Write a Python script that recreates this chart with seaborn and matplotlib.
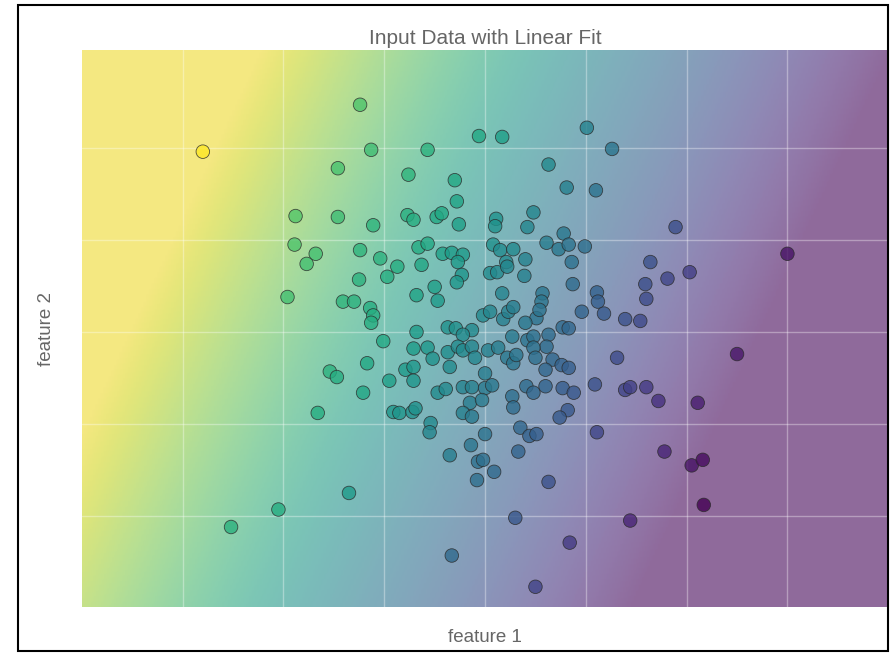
import numpy as np
import pandas as pd
import matplotlib
matplotlib.use("Agg")
import matplotlib.pyplot as plt
from matplotlib.patches import Rectangle
import seaborn as sns

# ---- data ----
feature_1 = [-2.80, -1.24, -1.13, -0.57, -0.06, 0.17, 1.01, 1.26, -1.46, -0.76,
             -0.30, 0.63, 0.81, 1.10, -0.28, -1.88, -1.46, -1.11, -0.77, -0.71,
             -0.48, -0.43, -0.26, 0.48, 0.11, 0.10, 0.42, 0.78, 1.89, -1.89,
             -1.68, -1.77, -1.24, -0.66, -0.57, -0.42, -0.33, -0.22, -0.27, 0.61,
             0.73, 0.83, 0.99, 0.08, 0.15, 0.28, 0.21, 0.40, 0.86, 1.64,
             2.03, 3.00, -1.04, -0.87, -0.97, -0.63, -0.23, -0.28, -1.25, -0.68,
             -0.50, -0.47, -1.96, -1.41, -1.30, -1.14, -1.11, -1.13, -0.68, -0.37,
             -0.29, -0.13, -0.22, -1.01, -0.71, -0.57, -0.52, -0.37, -0.27, -0.22,
             -0.13, -0.35, -1.17, -0.79, -0.71, -0.71, -1.54, -1.47, -0.95, -1.21,
             -0.47, -0.39, -0.22, -0.13, -0.15, -0.22, -0.13, -0.91, -0.85, -0.72,
             -0.69, -0.54, -0.55, -1.66, 0.05, 0.12, 0.22, 0.39, 0.87, 0.17,
             0.57, 0.56, 1.11, 1.12, 1.18, 0.96, -0.02, 0.05, 0.18, 0.23,
             0.28, 0.51, 0.54, 0.40, 0.77, 0.83, 0.27, 0.42, 0.48, 0.63,
             0.61, 0.48, 0.50, 0.03, 0.13, 0.22, 0.28, 0.31, 0.67, -0.10,
             0.60, 0.76, 0.83, 1.31, 0.00, 0.41, 0.48, 0.60, 0.77, 0.88,
             1.09, 0.00, 0.07, -0.03, 0.27, 0.28, 0.82, 0.74, 0.35, 0.44,
             0.51, 0.00, 1.11, 1.81, 1.59, 1.60, 1.39, 1.54, 2.50, 1.39,
             1.44, 1.60, 1.72, 2.11, -2.52, -2.05, -0.14, -0.35, -0.07, -0.08,
             -1.35, -0.33, 0.33, -0.02, 0.09, 0.63, 0.30, 0.84, 0.50, 1.78,
             2.05, 2.16, 2.17, 1.44]
feature_2 = [1.96, 2.47, 1.98, 1.98, 2.13, 2.12, 2.22, 1.99, 1.78, 1.71,
             1.65, 1.82, 1.57, 1.54, 1.42, 1.26, 1.25, 1.16, 1.27, 1.22,
             1.25, 1.29, 1.17, 1.30, 1.23, 1.15, 1.14, 1.07, 1.14, 0.95,
             0.85, 0.74, 0.89, 0.92, 0.96, 0.85, 0.86, 0.84, 0.76, 0.97,
             0.90, 0.95, 0.93, 0.95, 0.89, 0.90, 0.76, 0.79, 0.76, 0.76,
             0.65, 0.85, 0.80, 0.71, 0.60, 0.73, 0.62, 0.54, 0.57, 0.40,
             0.49, 0.34, 0.38, 0.33, 0.33, 0.26, 0.18, 0.10, 0.00, 0.05,
             0.04, 0.02, -0.03, -0.10, -0.18, -0.17, -0.29, -0.22, -0.16, -0.20,
             -0.16, -0.38, -0.34, -0.41, -0.38, -0.53, -0.43, -0.49, -0.53, -0.66,
             -0.66, -0.62, -0.60, -0.60, -0.77, -0.88, -0.92, -0.87, -0.88, -0.87,
             -0.83, -0.99, -1.09, -0.88, 0.64, 0.65, 0.71, 0.61, 0.52, 0.42,
             0.42, 0.33, 0.43, 0.33, 0.20, 0.22, 0.18, 0.22, 0.14, 0.22,
             0.27, 0.15, 0.24, 0.10, 0.05, 0.04, -0.05, -0.09, -0.05, -0.03,
             -0.16, -0.17, -0.28, -0.20, -0.17, -0.28, -0.34, -0.25, -0.30, -0.28,
             -0.41, -0.36, -0.39, -0.28, -0.45, -0.59, -0.66, -0.59, -0.61, -0.66,
             -0.57, -0.61, -0.58, -0.74, -0.70, -0.82, -0.85, -0.93, -1.04, -1.13,
             -1.11, -1.11, -1.09, 0.58, 0.52, 0.36, 0.14, 0.12, -0.24, -0.63,
             -0.60, -0.60, -0.75, -0.77, -2.12, -1.93, -1.23, -1.34, -1.41, -1.61,
             -1.75, -2.43, -1.30, -1.39, -1.52, -1.63, -2.02, -2.29, -2.77, -1.30,
             -1.45, -1.39, -1.88, -2.05]
target = [1.00, 0.72, 0.69, 0.64, 0.60, 0.56, 0.44, 0.39, 0.71, 0.65,
          0.60, 0.47, 0.43, 0.38, 0.58, 0.73, 0.69, 0.65, 0.63, 0.62,
          0.60, 0.60, 0.56, 0.46, 0.51, 0.51, 0.46, 0.40, 0.24, 0.72,
          0.70, 0.70, 0.65, 0.61, 0.60, 0.57, 0.55, 0.54, 0.54, 0.42,
          0.40, 0.38, 0.36, 0.50, 0.48, 0.47, 0.47, 0.44, 0.37, 0.25,
          0.18, 0.05, 0.64, 0.62, 0.62, 0.59, 0.52, 0.53, 0.64, 0.58,
          0.56, 0.54, 0.70, 0.65, 0.64, 0.62, 0.62, 0.62, 0.55, 0.51,
          0.50, 0.47, 0.48, 0.60, 0.55, 0.53, 0.51, 0.49, 0.48, 0.47,
          0.46, 0.48, 0.60, 0.54, 0.53, 0.52, 0.64, 0.62, 0.56, 0.59,
          0.48, 0.47, 0.44, 0.43, 0.42, 0.43, 0.41, 0.53, 0.52, 0.50,
          0.50, 0.47, 0.46, 0.62, 0.48, 0.47, 0.46, 0.43, 0.35, 0.45,
          0.39, 0.39, 0.31, 0.30, 0.28, 0.32, 0.47, 0.46, 0.43, 0.43,
          0.42, 0.38, 0.38, 0.40, 0.34, 0.33, 0.41, 0.38, 0.37, 0.35,
          0.35, 0.37, 0.36, 0.43, 0.42, 0.40, 0.39, 0.39, 0.33, 0.46,
          0.33, 0.31, 0.30, 0.23, 0.42, 0.35, 0.33, 0.32, 0.29, 0.27,
          0.25, 0.41, 0.40, 0.41, 0.36, 0.35, 0.27, 0.28, 0.33, 0.31,
          0.30, 0.38, 0.21, 0.21, 0.24, 0.23, 0.25, 0.22, 0.06, 0.20,
          0.19, 0.17, 0.14, 0.08, 0.64, 0.62, 0.39, 0.42, 0.37, 0.36,
          0.54, 0.34, 0.32, 0.36, 0.34, 0.25, 0.27, 0.17, 0.20, 0.10,
          0.05, 0.03, 0.00, 0.10]

title = "Input Data with Linear Fit"
xlabel = "feature 1"
ylabel = "feature 2"

df = pd.DataFrame({"x": feature_1, "y": feature_2, "t": target})

sns.set_theme(style="darkgrid")
plt.rcParams["font.family"] = ["Liberation Sans", "DejaVu Sans"]

fig = plt.figure(figsize=(8.9, 6.53), dpi=100)
ax = fig.add_axes([0.092, 0.0704, 0.906, 0.8530])

xlim = (-4.0, 4.0)
ylim = (-2.99, 3.065)

# linear fit of target on the two features -> background
A = np.column_stack([np.ones(len(df)), df["x"], df["y"]])
coef, *_ = np.linalg.lstsq(A, df["t"].to_numpy(), rcond=None)
gx = np.linspace(*xlim, 300)
gy = np.linspace(*ylim, 300)
GX, GY = np.meshgrid(gx, gy)
Z = coef[0] + coef[1] * GX + coef[2] * GY
ax.imshow(Z, extent=(*xlim, *ylim), origin="lower", aspect="auto",
          cmap="viridis", vmin=0.05, vmax=0.95, alpha=0.55, zorder=1)

sns.scatterplot(data=df, x="x", y="y", hue="t", palette="viridis",
                hue_norm=(0, 1), legend=False, s=95, alpha=0.8,
                edgecolor="#2a2a2a", linewidth=0.6, ax=ax, zorder=3)

ax.set_xlim(*xlim)
ax.set_ylim(*ylim)
ax.set_xticks([-3, -2, -1, 0, 1, 2, 3])
ax.set_yticks([-2, -1, 0, 1, 2])
ax.set_xticklabels([])
ax.set_yticklabels([])
ax.tick_params(length=0)
ax.set_axisbelow(False)
ax.grid(True, color="white", linewidth=1.0, alpha=0.35, zorder=2)
for s in ax.spines.values():
    s.set_visible(False)

ax.set_title(title, color="#666666", fontsize=15, pad=4)
ax.set_xlabel(xlabel, color="#666666", fontsize=13.5, labelpad=12)
ax.set_ylabel(ylabel, color="#666666", fontsize=13.5, labelpad=16)

fig.add_artist(Rectangle((18 / 890, 2 / 653), 870 / 890, 646 / 653,
                         transform=fig.transFigure, fill=False,
                         edgecolor="black", linewidth=1.5))

fig.savefig("out.png", dpi=100)
